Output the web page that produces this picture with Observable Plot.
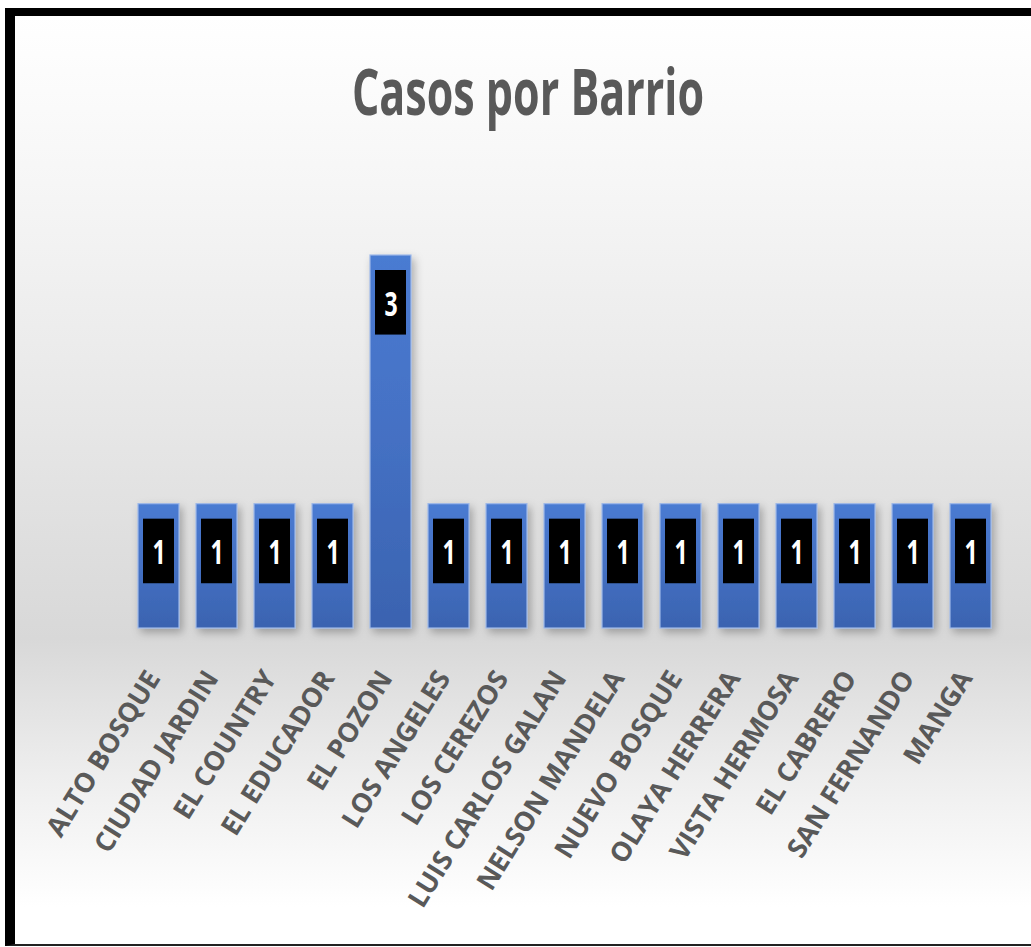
<!DOCTYPE html>
<html>
<head>
<meta charset="utf-8">
<script src="https://cdn.jsdelivr.net/npm/d3@7"></script>
<script src="https://cdn.jsdelivr.net/npm/@observablehq/plot@0.6"></script>
<style>
  html, body { margin: 0; padding: 0; background: #ffffff; width: 1031px; height: 947px; overflow: hidden; }
  #frame {
    position: absolute; left: 5px; top: 8px; width: 1040px; height: 938px;
    box-sizing: border-box;
    border-top: 8px solid #000; border-left: 10px solid #000; border-bottom: 2px solid #222;
    background: linear-gradient(to bottom, #ffffff 0%, #f6f6f6 18%, #e8e8e8 42%, #d8d8d8 67%, #eeeeee 82%, #ffffff 96%);
    background-clip: padding-box;
    overflow: hidden;
  }
  #title {
    position: absolute; left: 5px; width: 1016px; top: 61.3px;
    text-align: center; font-family: "Open Sans", sans-serif; font-weight: 700;
    font-size: 43px; line-height: 43px; color: #595959;
    transform: scaleY(1.5); transform-origin: 50% 38.2px;
  }
  #chart { position: absolute; left: 0; top: 134px; }
</style>
</head>
<body>
<div id="frame">
  <div id="title">Casos por Barrio</div>
  <div id="chart"></div>
</div>
<script>
const barrios = ["ALTO BOSQUE", "CIUDAD JARDIN", "EL COUNTRY", "EL EDUCADOR", "EL POZON", "LOS ANGELES", "LOS CEREZOS", "LUIS CARLOS GALAN", "NELSON MANDELA", "NUEVO BOSQUE", "OLAYA HERRERA", "VISTA HERMOSA", "EL CABRERO", "SAN FERNANDO", "MANGA"];
const casos = [1, 1, 1, 1, 3, 1, 1, 1, 1, 1, 1, 1, 1, 1, 1];

const data = barrios.map((b, i) => ({barrio: b, casos: casos[i]}));

const defs = () => {
  const d = d3.create("svg:defs");
  const g = d.append("linearGradient").attr("id", "barGrad").attr("x1", 0).attr("y1", 0).attr("x2", 0).attr("y2", 1);
  g.append("stop").attr("offset", "0%").attr("stop-color", "#4a7bd2");
  g.append("stop").attr("offset", "50%").attr("stop-color", "#4470c3");
  g.append("stop").attr("offset", "100%").attr("stop-color", "#3a63b0");
  const f = d.append("filter").attr("id", "shadow").attr("x", "-30%").attr("y", "-10%").attr("width", "170%").attr("height", "130%");
  f.append("feDropShadow").attr("dx", 3).attr("dy", 4).attr("stdDeviation", 4).attr("flood-color", "#000").attr("flood-opacity", 0.28);
  return d.node();
};

const plot = Plot.plot({
  width: 1016,
  height: 794,
  marginLeft: 99,
  marginRight: 16,
  marginTop: 105,
  marginBottom: 316,
  style: {background: "transparent", fontFamily: "'Open Sans', sans-serif", color: "#595959", overflow: "visible"},
  x: {domain: barrios, padding: 0.3, label: null},
  y: {domain: [0, 3], axis: null},
  marks: [
    defs,
    Plot.barY(data, {x: "barrio", y: "casos", fill: "url(#barGrad)", stroke: "#9db8e8", strokeWidth: 1.2}),
    Plot.barY(data, {x: "barrio", y1: "casos", y2: d => d.casos - 0.64, insetTop: 15, insetLeft: 5, insetRight: 5, fill: "#000"}),
    Plot.text(data, {x: "barrio", y: "casos", dy: 49, text: d => String(d.casos), fill: "#ffffff", fontSize: 23, fontWeight: 700}),
    Plot.axisX({tickSize: 0, tickRotate: -58, tickPadding: 45, dx: -5, fontSize: 27, fontWeight: 700, label: null})
  ]
});

function stretch(el, sy) {
  let t = el.getAttribute("transform") || "";
  if (!t.includes("translate")) {
    const x = +el.getAttribute("x") || 0, y = +el.getAttribute("y") || 0;
    el.removeAttribute("x"); el.removeAttribute("y");
    t = `translate(${x},${y}) ` + t;
  }
  t = t + ` scale(1,${sy})`;
  el.setAttribute("transform", t);
}
plot.querySelectorAll('g[aria-label="text"] text').forEach(el => stretch(el, 1.5));
const bars = plot.querySelectorAll('g[aria-label="bar"]');
if (bars.length) bars[0].setAttribute("filter", "url(#shadow)");
plot.querySelectorAll('g[aria-label="x-axis tick label"]').forEach(g => g.setAttribute("fill", "#595959"));

document.getElementById("chart").appendChild(plot);
</script>
</body>
</html>
